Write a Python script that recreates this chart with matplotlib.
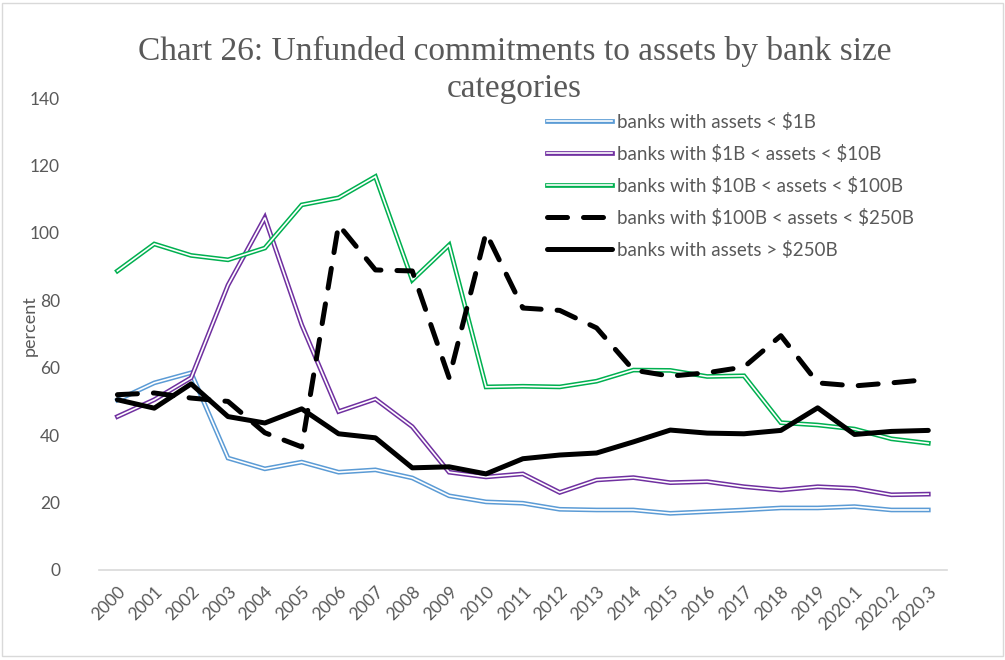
import matplotlib.pyplot as plt
from matplotlib.patches import Rectangle

# data
years = ["2000", "2001", "2002", "2003", "2004", "2005", "2006", "2007", "2008", "2009",
         "2010", "2011", "2012", "2013", "2014", "2015", "2016", "2017", "2018", "2019",
         "2020.1", "2020.2", "2020.3"]
small = [50.4, 55.5, 58.5, 33.2, 30.0, 32.0, 29.0, 29.7, 27.3, 22.0, 20.2, 19.8,
         18.0, 17.8, 17.8, 16.8, 17.3, 17.8, 18.4, 18.4, 18.8, 17.8, 17.8]
mid = [45.5, 50.5, 57.0, 84.5, 104.5, 72.7, 47.0, 50.7, 42.5, 29.0, 27.6, 28.5,
       23.0, 26.7, 27.4, 25.9, 26.2, 24.7, 23.7, 24.7, 24.2, 22.3, 22.5]
large = [88.7, 96.7, 93.3, 92.0, 95.5, 108.3, 110.4, 116.7, 86.0, 96.4, 54.3, 54.5,
         54.3, 56.0, 59.3, 59.2, 57.4, 57.6, 43.7, 43.0, 41.8, 38.9, 37.6]
regional = [52.0, 52.5, 51.0, 50.0, 40.7, 36.5, 102.4, 89.0, 88.7, 57.0, 100.0, 77.7,
            77.0, 71.8, 59.3, 57.5, 58.5, 60.2, 69.5, 55.5, 54.6, 55.5, 56.5]
biggest = [50.5, 48.0, 55.2, 45.5, 43.6, 47.8, 40.4, 39.2, 30.3, 30.6, 28.5, 33.0,
           34.1, 34.7, 38.0, 41.5, 40.6, 40.4, 41.4, 48.1, 40.2, 41.1, 41.4]

labels = [r"banks with assets < \$1B", r"banks with \$1B < assets < \$10B",
          r"banks with \$10B < assets < \$100B", r"banks with \$100B < assets < \$250B",
          r"banks with assets > \$250B"]

gray = "#595959"
plt.rcParams['font.family'] = ['Lato', 'DejaVu Sans']

fig = plt.figure(figsize=(10.05, 6.6), dpi=100)
ax = fig.add_axes([0.0985, 0.1364, 0.8435, 0.7151])
x = list(range(len(years)))

handles = []
for vals, col in [(small, "#5B9BD5"), (mid, "#7030A0"), (large, "#00B050")]:
    outer, = ax.plot(x, vals, color=col, lw=3.4, solid_joinstyle='miter')
    inner, = ax.plot(x, vals, color="white", lw=1.2, solid_joinstyle='miter')
    handles.append((outer, inner))

dash, = ax.plot(x, regional, color="black", lw=3.6, dashes=(4, 3.2), dash_capstyle='round')
handles.append(dash)
solid, = ax.plot(x, biggest, color="black", lw=3.6, solid_capstyle='round')
handles.append(solid)

ax.set_xlim(-0.5, len(years) - 0.5)
ax.set_ylim(0, 140)
ax.set_yticks(range(0, 141, 20))
ax.set_xticks(x)
ax.set_xticklabels(years, rotation=45, ha="right", rotation_mode="anchor")
ax.tick_params(axis="both", length=0, labelsize=12.5, colors=gray)
ax.tick_params(axis="y", pad=28)
ax.tick_params(axis="x", pad=10)
for s in ["top", "right", "left"]:
    ax.spines[s].set_visible(False)
ax.spines["bottom"].set_color("#d9d9d9")
ax.spines["bottom"].set_linewidth(1.2)

fig.text(0.03, 0.507, "percent", rotation=90, ha="center", va="center", fontsize=13, color=gray)
fig.text(0.512, 0.894, "Chart 26: Unfunded commitments to assets by bank size\ncategories",
         ha="center", va="center", fontsize=24, color=gray, family="Liberation Serif",
         linespacing=1.25)

fig.legend(handles, labels, loc="upper left", bbox_to_anchor=(0.527, 0.855),
           frameon=False, fontsize=13.5, labelcolor=gray, handlelength=3.5,
           handletextpad=0.25, labelspacing=0.75)

fig.patches.append(Rectangle((0.002, 0.006), 0.996, 0.99, transform=fig.transFigure,
                             fill=False, edgecolor="#d9d9d9", lw=1))

fig.savefig("out.png", dpi=100)
